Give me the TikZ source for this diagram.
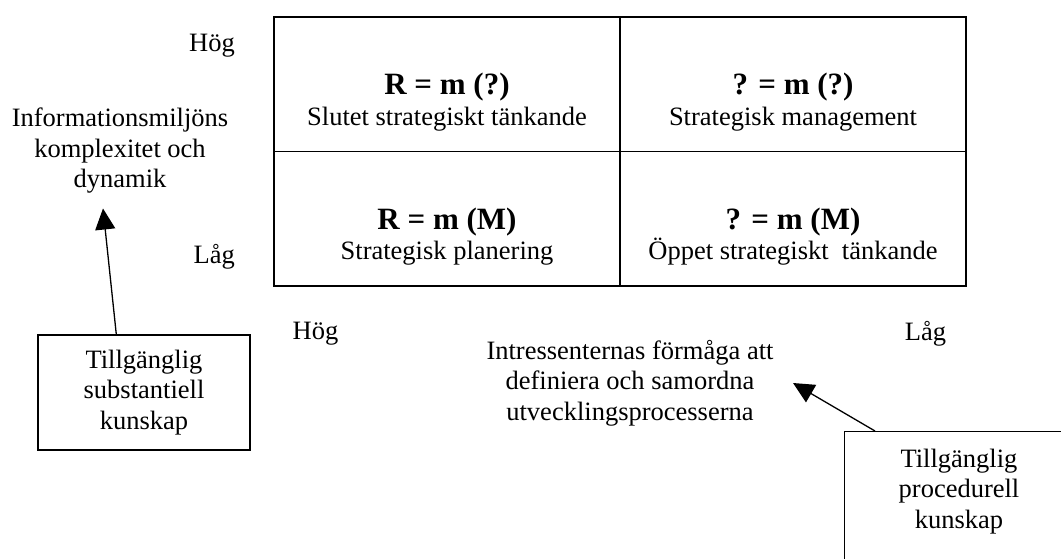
\documentclass[tikz,border=0pt]{standalone}
\usepackage{fontspec}
\setmainfont{Liberation Serif}
\usetikzlibrary{arrows.meta,calc}
\begin{document}
\begin{tikzpicture}[x=1pt,y=-1pt,
  txt/.style={font=\fontsize{26.5}{30.5}\selectfont, inner sep=0pt, align=center},
  cell/.style={draw, line width=1.6pt, minimum width=346pt, minimum height=134.5pt, inner sep=0pt},
  kbox/.style={draw, line width=1.4pt, inner sep=0pt},
  pil/.style={line width=1.3pt, -{Triangle[length=21pt,width=20pt]}}
]
\useasboundingbox (0,0) rectangle (1061,558);

% the 2x2 matrix
\node[cell] (c11) at (447,84.25) {};
\node[cell] (c12) at (793,84.25) {};
\node[cell] (c21) at (447,218.75) {};
\node[cell] (c22) at (793,218.75) {};

\newcommand{\formel}[1]{\textbf{\fontsize{31}{31}\selectfont #1}}
\node[txt] (t11) at ([yshift=-18pt]c11.center) {\formel{R = m (?)}\\Slutet strategiskt tänkande};
\node[txt] (t12) at ([yshift=-18pt]c12.center) {\formel{? = m (?)}\\Strategisk management};
\node[txt] (t21) at ([yshift=-18pt]c21.center) {\formel{R = m (M)}\\Strategisk planering};
\node[txt] (t22) at ([yshift=-18pt]c22.center) {\formel{? = m (M)}\\Öppet strategiskt~~tänkande};

% axis labels
\node[txt, anchor=east] (hy) at (235,45.2) {Hög};
\node[txt, anchor=east] (ly) at (235,257) {Låg};
\node[txt] (yaxis) at (120,151) {Informationsmiljöns\\komplexitet och\\dynamik};
\node[txt] (hx) at (315.5,334) {Hög};
\node[txt] (lx) at (925.5,334) {Låg};
\node[txt] (xaxis) at (630,383) {Intressenternas förmåga att\\definiera och samordna\\utvecklingsprocesserna};

% knowledge boxes
\node[kbox, txt, minimum width=212pt, minimum height=115pt] (b1) at (144,392.5) {Tillgänglig\\substantiell\\kunskap};
\node[kbox, minimum width=230pt, minimum height=150pt, anchor=north west] (b2) at (844,431) {};
\node[txt] (b2t) at (959,491.5) {Tillgänglig\\procedurell\\kunskap};

% arrows
\coordinate (p1) at (103,208.5);
\coordinate (p2) at (793,383);
\draw[pil] ($(b1.north west)+(79,0)$) -- (p1);
\draw[pil] ($(b2.north west)+(31,0)$) -- (p2);
\end{tikzpicture}
\end{document}
